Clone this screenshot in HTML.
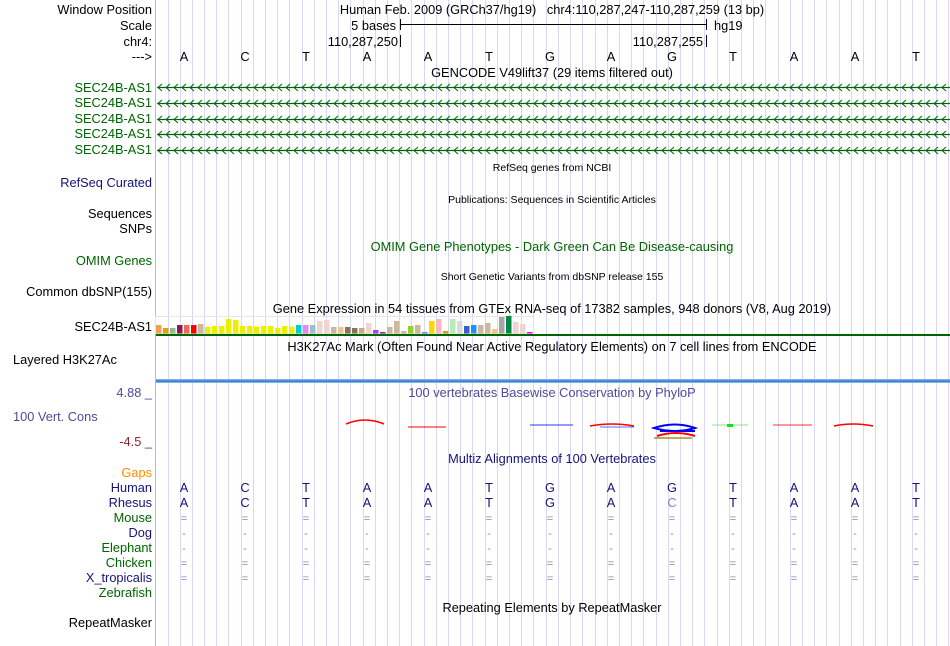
<!DOCTYPE html>
<html><head><meta charset="utf-8"><style>
html,body{margin:0;padding:0;background:#fff;}
svg{display:block;font-family:"Liberation Sans",sans-serif;}
</style></head><body>
<svg id="s" width="950" height="646" xmlns="http://www.w3.org/2000/svg">
<rect width="950" height="646" fill="#fff"/>
<g id="grid"></g>
<line x1="155.5" y1="0" x2="155.5" y2="646" stroke="#ffa0a0" stroke-width="1"/>
<g id="genes"></g>
<g id="bars"></g>
<rect x="156" y="334" width="794" height="2" fill="#006400"/>
<rect x="156" y="379" width="794" height="4" fill="#78b4ea"/>
<rect x="156" y="380.5" width="794" height="1.2" fill="#3366cc"/>
<g font-size="12.8" text-anchor="end" fill="#000">
<text x="152" y="14">Window Position</text>
<text x="152" y="30">Scale</text>
<text x="152" y="46">chr4:</text>
<text x="152" y="61">---&gt;</text>
<g fill="#006400">
<text x="152" y="92">SEC24B-AS1</text><text x="152" y="107">SEC24B-AS1</text><text x="152" y="123">SEC24B-AS1</text><text x="152" y="138">SEC24B-AS1</text><text x="152" y="154">SEC24B-AS1</text>
</g>
<text x="152" y="187" fill="#141478">RefSeq Curated</text>
<text x="152" y="218">Sequences</text>
<text x="152" y="233">SNPs</text>
<text x="152" y="265" fill="#006400">OMIM Genes</text>
<text x="152" y="296">Common dbSNP(155)</text>
<text x="152" y="331">SEC24B-AS1</text>
<text x="13" y="364" text-anchor="start">Layered H3K27Ac</text>
<text x="152" y="397" fill="#4b4b9a">4.88 _</text>
<text x="13" y="421" fill="#4b4b9a" text-anchor="start">100 Vert. Cons</text>
<text x="152" y="446" fill="#8b2a2a">-4.5 _</text>
<text x="152" y="477" fill="#ff8c00">Gaps</text>
<text x="152" y="492" fill="#141478">Human</text>
<text x="152" y="507" fill="#141478">Rhesus</text>
<text x="152" y="522" fill="#006400">Mouse</text>
<text x="152" y="537" fill="#141478">Dog</text>
<text x="152" y="552" fill="#006400">Elephant</text>
<text x="152" y="567" fill="#006400">Chicken</text>
<text x="152" y="582" fill="#141478">X_tropicalis</text>
<text x="152" y="597" fill="#006400">Zebrafish</text>
<text x="152" y="627">RepeatMasker</text>
</g>
<g font-size="12.8" text-anchor="middle">
<text x="552" y="14" xml:space="preserve">Human Feb. 2009 (GRCh37/hg19)   chr4:110,287,247-110,287,259 (13 bp)</text>
<text x="552" y="77">GENCODE V49lift37 (29 items filtered out)</text>
<text x="552" y="251" fill="#006400">OMIM Gene Phenotypes - Dark Green Can Be Disease-causing</text>
<text x="552" y="313">Gene Expression in 54 tissues from GTEx RNA-seq of 17382 samples, 948 donors (V8, Aug 2019)</text>
<text x="552" y="351">H3K27Ac Mark (Often Found Near Active Regulatory Elements) on 7 cell lines from ENCODE</text>
<text x="552" y="397" fill="#4b4b9a">100 vertebrates Basewise Conservation by PhyloP</text>
<text x="552" y="463" fill="#141478">Multiz Alignments of 100 Vertebrates</text>
<text x="552" y="612">Repeating Elements by RepeatMasker</text>
</g>
<g font-size="10.5" text-anchor="middle">
<text x="552" y="171">RefSeq genes from NCBI</text>
<text x="552" y="203">Publications: Sequences in Scientific Articles</text>
<text x="552" y="280">Short Genetic Variants from dbSNP release 155</text>
</g>
<g font-size="12.8">
<text x="396" y="30" text-anchor="end">5 bases</text>
<text x="714" y="30">hg19</text>
<text x="398" y="46" text-anchor="end">110,287,250</text>
<text x="703" y="46" text-anchor="end">110,287,255</text>
</g>
<g stroke="#000" stroke-width="1">
<line x1="400.5" y1="24.5" x2="706.5" y2="24.5"/>
<line x1="400.5" y1="19" x2="400.5" y2="30"/>
<line x1="706.5" y1="19" x2="706.5" y2="30"/>
<line x1="400.5" y1="35" x2="400.5" y2="47"/>
<line x1="706.5" y1="35" x2="706.5" y2="47"/>
</g>
<g id="bases" font-size="12.8" text-anchor="middle"></g>
<g id="cons" fill="none" stroke-width="1.5">
<path d="M346 424 Q365 416 384 424" stroke="#ff0000"/>
<path d="M408 427 L446 427" stroke="#ff0000" stroke-width="1"/>
<path d="M530 425 L573 425" stroke="#3030ff" stroke-width="1"/>
<path d="M590 426 Q612 422 634 426" stroke="#ff0000"/>
<path d="M600 427 L634 427" stroke="#3030ff" stroke-width="0.8"/>
<path d="M654 428 Q675 421 695 428 Q675 434 654 428 Z M660 431 L695 431" stroke="#0000ff" stroke-width="2"/>
<path d="M657 436 Q676 430 695 436" stroke="#ff0000" stroke-width="2"/>
<path d="M654 438 L692 438" stroke="#a89020" stroke-width="1.5"/>
<path d="M712 425 L748 425" stroke="#90e090" stroke-width="1"/>
<rect x="727" y="424" width="6" height="3" fill="#00ee00" stroke="none"/>
<path d="M773 425 L812 425" stroke="#ff3030" stroke-width="1"/>
<path d="M834 426 Q853 422 873 426" stroke="#ff0000" stroke-width="1.5"/>
</g>
</svg>
<script>
var NS="http://www.w3.org/2000/svg";
function el(t,a,p){var e=document.createElementNS(NS,t);for(var k in a)e.setAttribute(k,a[k]);p.appendChild(e);return e;}
var g=document.getElementById('grid');
for(var x=167.5;x<950;x+=12.2){el('line',{x1:Math.round(x)+.5,y1:0,x2:Math.round(x)+.5,y2:646,stroke:'#d8d8f4','stroke-width':1},g);}
var gn=document.getElementById('genes');
[87,103,119,134,150].forEach(function(y){
 el('line',{x1:157,y1:y+.5,x2:950,y2:y+.5,stroke:'#006400','stroke-width':1.3},gn);
 var d='';for(var x=158;x<948;x+=8){d+='M'+(x+4)+' '+(y-3)+' L'+x+' '+(y+.5)+' L'+(x+4)+' '+(y+4)+' ';}
 el('path',{d:d,stroke:'#006400',fill:'none','stroke-width':1},gn);
});
var cols=['#f6a04d','#e8a000','#8fbc8f','#8b1a55','#ee6a50','#ff0000','#cdb79e','#eeee00','#eeee00','#eeee00','#eeee00','#eeee00','#eeee00','#eeee00','#eeee00','#eeee00','#eeee00','#eeee00','#eeee00','#eeee00','#00cdcd','#ee82ee','#9ac0cd','#eed5d2','#eed5d2','#cdb79e','#eec591','#8b7355','#8b7355','#cdaa7d','#eed5d2','#b23aee','#7a378b','#cdb79e','#cdb79e','#cdb79e','#9acd32','#cdb79e','#7777ff','#ffd700','#ffb6c1','#cd9b1d','#b4eeb4','#d9d9d9','#3a5fcd','#1e90ff','#cdb79e','#cdb79e','#eec591','#a6a6a6','#008b45','#eed5d2','#eed5d2','#ff00ff'];
var tops=[75,84,84,75,75,75,72,80,78,78,57,60,78,78,80,78,78,84,78,80,75,75,75,63,60,81,81,81,84,84,69,90,96,81,63,93,78,75,96,63,57,93,57,63,78,75,75,69,87,51,48,66,72,96];
var b=document.getElementById('bars');
el('rect',{x:155.5,y:316.5,width:378,height:17,fill:'none',stroke:'#e6e6e6','stroke-width':1},b);
for(var i=0;i<54;i++){var t=300+tops[i]/3;el('rect',{x:156+i*7,y:t,width:5.5,height:333.5-t,fill:cols[i]},b);}
var seq='ACTAATGAGTAAT',bs=document.getElementById('bases');
for(var i=0;i<13;i++){var x=184+61*i;
 var t=el('text',{x:x,y:61},bs);t.textContent=seq[i];
 t=el('text',{x:x,y:492,fill:'#141478'},bs);t.textContent=seq[i];
 t=el('text',{x:x,y:507,fill:i==8?'#8080c0':'#141478'},bs);t.textContent=i==8?'C':seq[i];
 [[522,'='],[537,'-'],[552,'-'],[567,'='],[582,'=']].forEach(function(r){var t=el('text',{x:x,y:r[0],fill:'#8888b0','font-size':'11'},bs);t.textContent=r[1];});
}
</script>
</body></html>
